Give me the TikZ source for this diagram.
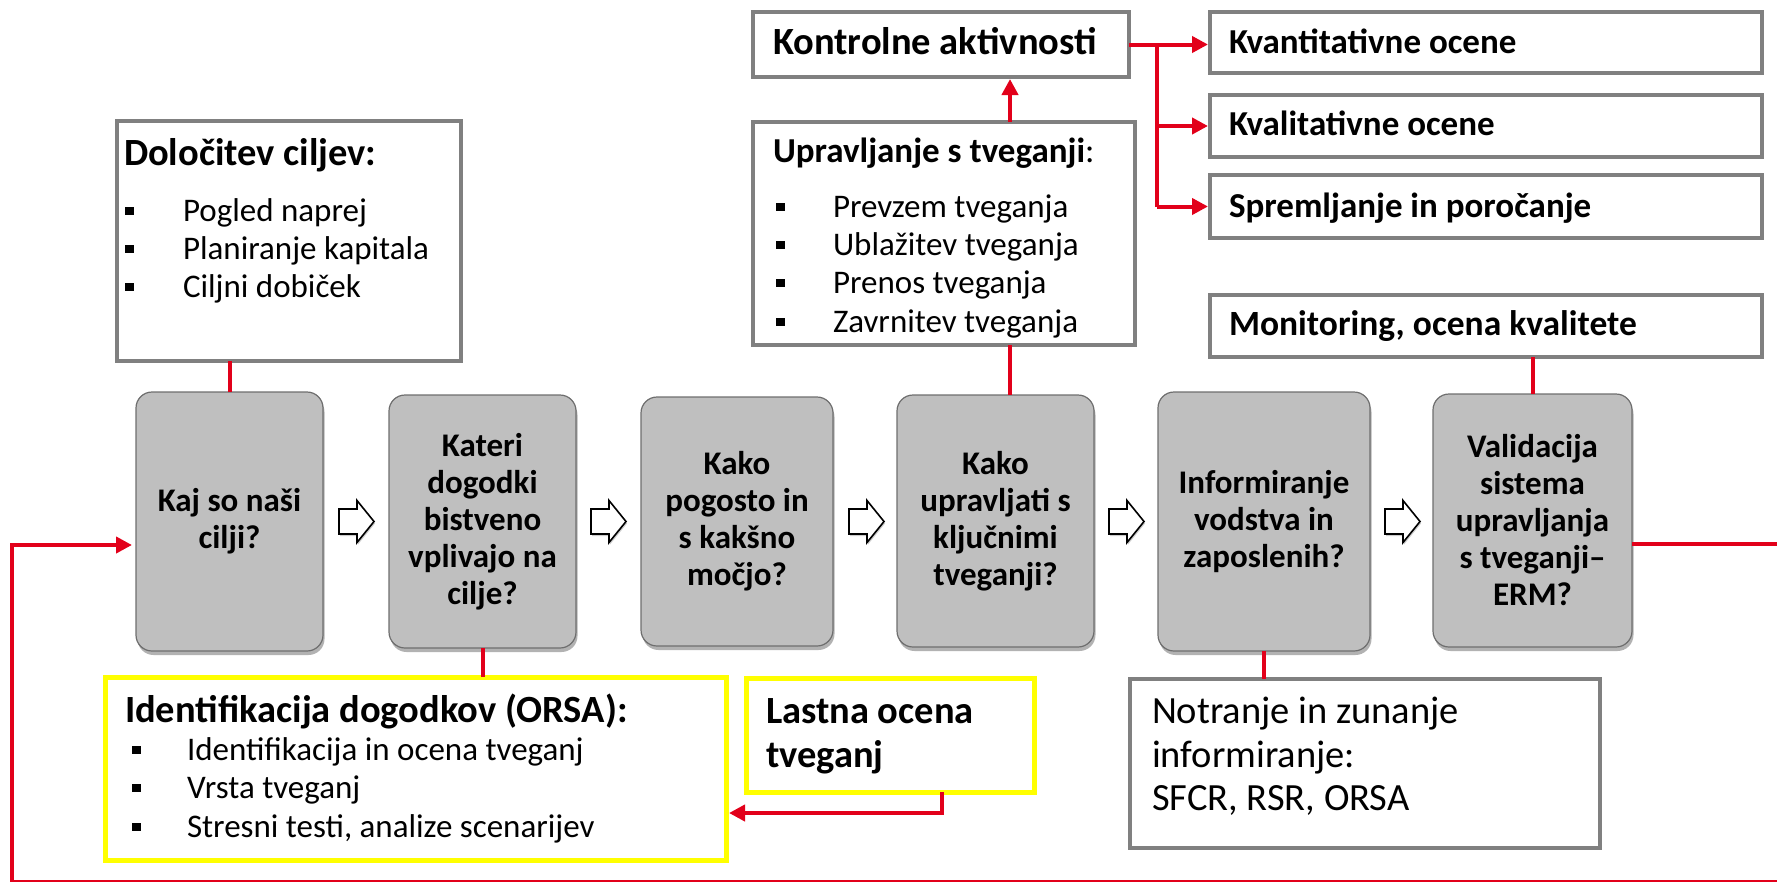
\documentclass[tikz,border=0pt]{standalone}
\usepackage{fontspec}
\setmainfont{Carlito}
\usetikzlibrary{arrows.meta,shadows}
\definecolor{myred}{HTML}{E2001A}
\definecolor{bordergray}{HTML}{808080}
\definecolor{boxgray}{HTML}{BFBFBF}
\definecolor{pborder}{HTML}{6E6E6E}
\definecolor{myyellow}{HTML}{FFFF00}
\newcommand{\sqb}{\rule[6pt]{8.5pt}{8.5pt}}
\newcommand{\bitem}[2]{\makebox[#1][l]{\sqb}#2}
\begin{document}
\begin{tikzpicture}[x=1pt,y=-1pt,
  every node/.style={outer sep=0pt},
  wbox/.style={draw=bordergray, line width=4pt, fill=white, inner sep=0pt},
  ybox/.style={draw=myyellow, line width=5pt, fill=white, inner sep=0pt},
  pbox/.style={draw=pborder, line width=1.2pt, fill=boxgray, rounded corners=16pt, inner sep=0pt,
    align=center, font=\fontsize{33}{37}\selectfont\bfseries,
    drop shadow={shadow xshift=1.5pt, shadow yshift=-4pt, opacity=0.3, fill=black}},
  ttl/.style={inner sep=0pt, anchor=base west, font=\fontsize{38.5}{44}\selectfont\bfseries},
  sttl/.style={inner sep=0pt, anchor=base west, font=\fontsize{35}{42}\selectfont\bfseries},
  body/.style={inner sep=0pt, anchor=base west, font=\fontsize{33}{38}\selectfont},
  bigbody/.style={inner sep=0pt, anchor=base west, font=\fontsize{38.5}{44}\selectfont},
  redline/.style={draw=myred, line width=4pt},
  redarrow/.style={draw=myred, line width=4pt, -{Triangle[length=16pt,width=16pt]}},
  hollowarr/.pic={\draw[line width=1.6pt, line join=miter, fill=white,
      drop shadow={shadow xshift=1pt, shadow yshift=-2pt, opacity=0.2, fill=black}]
      (-18,-12.5) -- (0,-12.5) -- (0,-21) -- (17,0) -- (0,21) -- (0,12.5) -- (-18,12.5) -- cycle;}
]
\useasboundingbox (0,0) rectangle (1777,881);

% ---------- white boxes ----------
\node[wbox, minimum width=344pt, minimum height=240pt] (dc) at (289,241) {};
\node[wbox, minimum width=376pt, minimum height=65pt] (ka) at (941,44.5) {};
\node[wbox, minimum width=552pt, minimum height=61pt] (kv) at (1486,42.5) {};
\node[wbox, minimum width=552pt, minimum height=62pt] (kl) at (1486,126) {};
\node[wbox, minimum width=552pt, minimum height=63pt] (sp) at (1486,206.5) {};
\node[wbox, minimum width=382pt, minimum height=223pt] (up) at (944,233.5) {};
\node[wbox, minimum width=552pt, minimum height=62pt] (mo) at (1486,326) {};
\node[ybox, minimum width=621pt, minimum height=183pt] (id) at (415.5,768.5) {};
\node[ybox, minimum width=288pt, minimum height=114pt] (lo) at (890,735) {};
\node[wbox, minimum width=470pt, minimum height=169pt] (no) at (1365,763.5) {};

% ---------- process boxes ----------
\node[pbox, minimum width=187pt, minimum height=259pt] (A) at (229.5,521.5) {Kaj so naši\\cilji?};
\node[pbox, minimum width=187pt, minimum height=253pt] (B) at (482.5,521.5) {Kateri\\dogodki\\bistveno\\vplivajo na\\cilje?};
\node[pbox, minimum width=192pt, minimum height=249pt] (C) at (737,521.5) {Kako\\pogosto in\\s kakšno\\močjo?};
\node[pbox, minimum width=197pt, minimum height=252pt] (D) at (995.5,521) {Kako\\upravljati s\\ključnimi\\tveganji?};
\node[pbox, minimum width=212pt, minimum height=259pt] (E) at (1264,521.5) {Informiranje\\vodstva in\\zaposlenih?};
\node[pbox, minimum width=199pt, minimum height=253pt] (F) at (1532.5,520.5) {Validacija\\sistema\\upravljanja\\s tveganji–\\ERM?};

% ---------- hollow arrows ----------
\pic at (357,521.5) {hollowarr};
\pic at (609,521.5) {hollowarr};
\pic at (867,521.5) {hollowarr};
\pic at (1127,521.5) {hollowarr};
\pic at (1403,521.5) {hollowarr};

% ---------- texts ----------
\node[ttl] (dct) at (124,165) {Določitev ciljev:};
\node[body] (dc1) at (125,221) {\bitem{58pt}{Pogled naprej}};
\node[body] (dc2) at (125,259) {\bitem{58pt}{Planiranje kapitala}};
\node[body] (dc3) at (125,297) {\bitem{58pt}{Ciljni dobiček}};

\node[ttl] (kat) at (773,54) {Kontrolne aktivnosti};
\node[sttl] (kvt) at (1229,53) {Kvantitativne ocene};
\node[sttl] (klt) at (1229,135) {Kvalitativne ocene};
\node[sttl] (spt) at (1229,217) {Spremljanje in poročanje};
\node[sttl, font=\fontsize{35.5}{42}\selectfont\bfseries] (mot) at (1229,335) {Monitoring, ocena kvalitete};

\node[sttl] (upt) at (773,162) {Upravljanje s tveganji{\mdseries:}};
\node[body] (up1) at (776,217) {\bitem{57pt}{Prevzem tveganja}};
\node[body] (up2) at (776,255) {\bitem{57pt}{Ublažitev tveganja}};
\node[body] (up3) at (776,293) {\bitem{57pt}{Prenos tveganja}};
\node[body] (up4) at (776,332) {\bitem{57pt}{Zavrnitev tveganja}};

\node[ttl] (idt) at (125,722) {Identifikacija dogodkov (ORSA):};
\node[body] (id1) at (132,760) {\bitem{55pt}{Identifikacija in ocena tveganj}};
\node[body] (id2) at (132,798) {\bitem{55pt}{Vrsta tveganj}};
\node[body] (id3) at (132,837) {\bitem{55pt}{Stresni testi, analize scenarijev}};

\node[ttl] (lo1) at (766,723) {Lastna ocena};
\node[ttl] (lo2) at (766,767) {tveganj};

\node[bigbody] (no1) at (1152,723) {Notranje in zunanje};
\node[bigbody] (no2) at (1152,767) {informiranje:};
\node[bigbody] (no3) at (1152,810) {SFCR, RSR, ORSA};

% ---------- red connectors ----------
\coordinate (upx) at (1010,0);
\coordinate (br) at (1157,0);
\coordinate (lobend) at (942,813);
\coordinate (lp1) at (1778.5,544);
\coordinate (lp2) at (1778.5,882.3);
\coordinate (lp3) at (11.5,882.3);
\coordinate (lp4) at (11.5,545);

\draw[redline] (A.north) -- (A.north |- dc.south);
\draw[redline] (B.south) -- (B.south |- id.north);
\draw[redline] (up.south -| upx) -- (D.north -| upx);
\draw[redline] (E.south) -- (E.south |- no.north);
\draw[redline] (F.north) -- (F.north |- mo.south);
\draw[redarrow, shorten >=2pt] (up.north -| upx) -- (ka.south -| upx);
\draw[redarrow, shorten >=2pt] (ka.east) -- (ka.east -| kv.west);
\draw[redline] (ka.east -| br) -- (sp.west -| br);
\draw[redarrow, shorten >=2pt] (kl.west -| br) -- (kl.west);
\draw[redarrow, shorten >=2pt] (sp.west -| br) -- (sp.west);
\draw[redarrow, shorten >=3pt] (lo.south -| lobend) -- (lobend) -- (lobend -| id.east);
\draw[redarrow, shorten >=4pt] (F.east |- lp1) -- (lp1) -- (lp2) -- (lp3) -- (lp4) -- (lp4 -| A.west);
\end{tikzpicture}
\end{document}
